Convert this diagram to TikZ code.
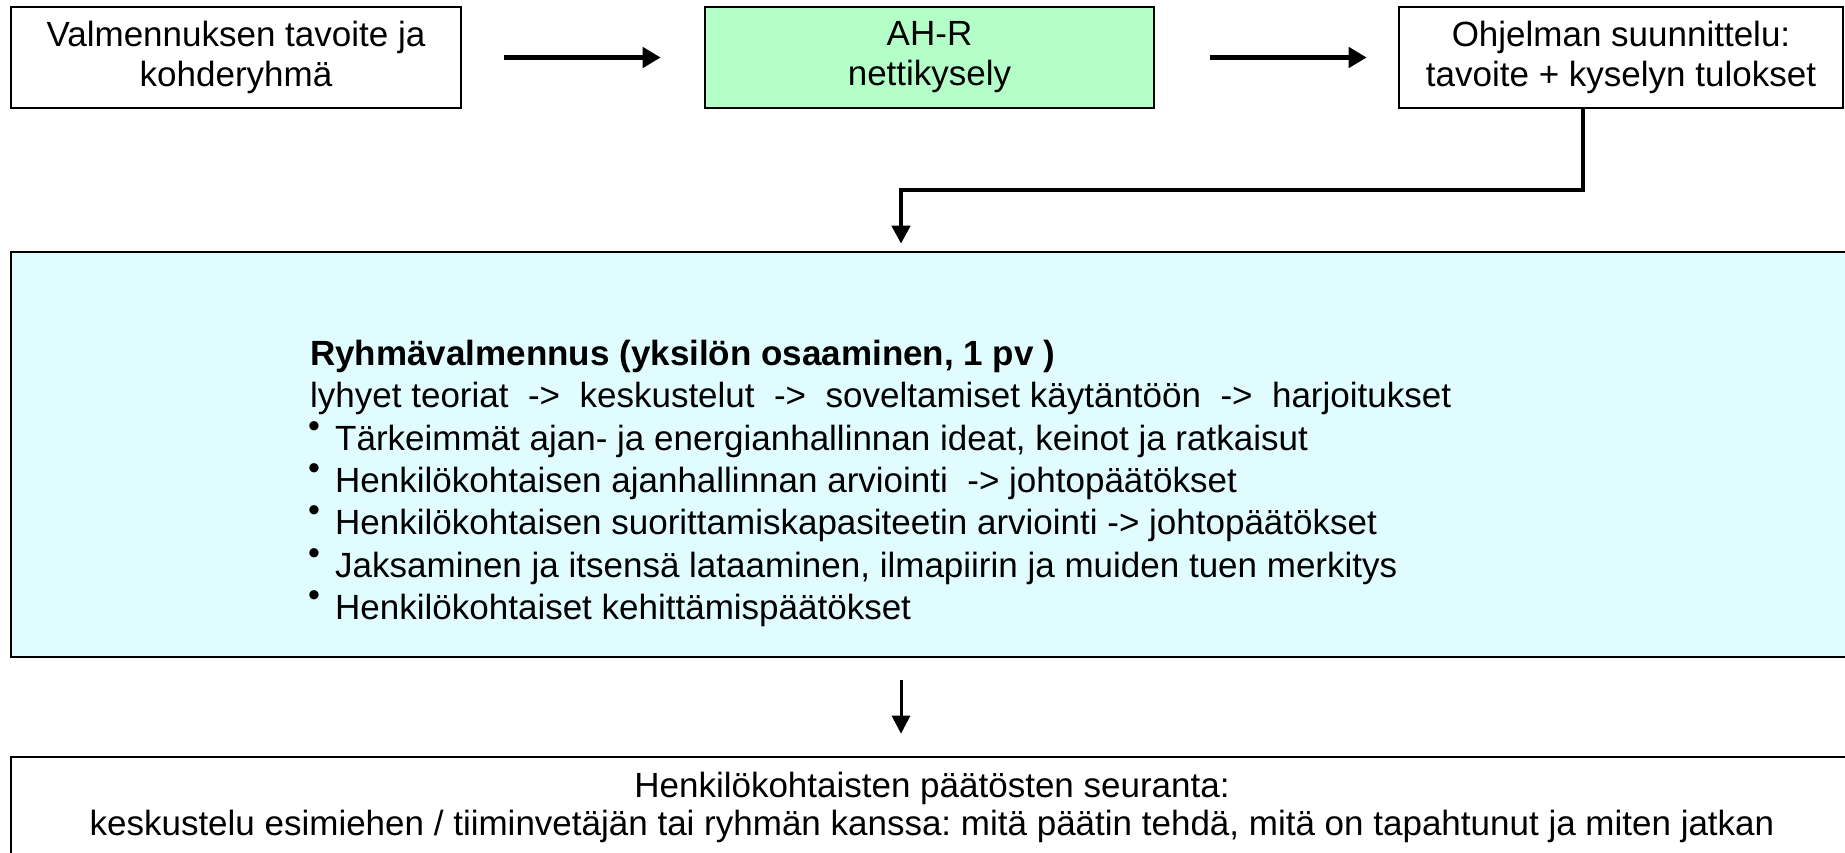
\documentclass[tikz,border=0pt]{standalone}
\usepackage{fontspec}
\setmainfont{Liberation Sans}
\usetikzlibrary{arrows.meta}
\definecolor{boxgreen}{HTML}{B3FFC7}
\definecolor{boxcyan}{HTML}{E0FCFF}
\frenchspacing
\begin{document}
\begin{tikzpicture}[x=1pt,y=-1pt,
  txt/.style={font=\fontsize{35}{40}\selectfont},
  flowbox/.style={draw=black, line width=2.6pt, inner sep=0pt, align=center, txt},
  line/.style={anchor=base west, inner sep=0pt, txt},
  bul/.style={anchor=center, inner sep=0pt, font=\fontsize{34}{34}\selectfont},
  conn/.style={line width=5pt, -{Triangle[length=18pt,width=20pt]}},
  bentconn/.style={line width=4.3pt, -{Triangle[length=18pt,width=18pt]}},
  thinconn/.style={line width=3pt, -{Triangle[length=18pt,width=18pt]}}]
\useasboundingbox (0,0) rectangle (1845,853);
\clip (0,0) rectangle (1845,853);
\fill[white] (0,0) rectangle (1845,853);
% top row
\node[flowbox, minimum width=450pt, minimum height=101pt] (b1) at (236,57.5) {Valmennuksen tavoite ja\\kohderyhmä};
\node[flowbox, fill=boxgreen, minimum width=449pt, minimum height=101pt] (b2) at (929.5,57.5) {AH-R\\nettikysely};
\node[flowbox, minimum width=444pt, minimum height=101pt] (b3) at (1621,57.5) {Ohjelman suunnittelu:\\tavoite + kyselyn tulokset};
% big box
\node[draw=black, line width=2.6pt, fill=boxcyan, minimum width=1842pt, minimum height=405pt, inner sep=0pt] (big) at (932,454.5) {};
\node[line] (t0) at (310,365) {\bfseries Ryhmävalmennus (yksilön osaaminen, 1 pv )};
\node[line] (t1) at (310,407) {lyhyet teoriat\ \ ->\ \ keskustelut\ \ ->\ \ soveltamiset käytäntöön\ \ ->\ \ harjoitukset};
\node[line] (t2) at (335,450) {Tärkeimmät ajan- ja energianhallinnan ideat, keinot ja ratkaisut};
\node[line] (t3) at (335,492) {Henkilökohtaisen ajanhallinnan arviointi\ \ -> johtopäätökset};
\node[line] (t4) at (335,534) {Henkilökohtaisen suorittamiskapasiteetin arviointi -> johtopäätökset};
\node[line] (t5) at (335,577) {Jaksaminen ja itsensä lataaminen, ilmapiirin ja muiden tuen merkitys};
\node[line] (t6) at (335,619) {Henkilökohtaiset kehittämispäätökset};
\foreach \y/\n in {450/2,492/3,534/4,577/5,619/6}
  \node[bul] (d\n) at (314,\y-20) {•};
% bottom box
\node[draw=black, line width=2.6pt, fill=white, minimum width=1842pt, minimum height=200pt, inner sep=0pt] (fb) at (932,857) {};
\node[anchor=base, inner sep=0pt, txt] (fu1) at (932,797) {Henkilökohtaisten päätösten seuranta:};
\node[anchor=base, inner sep=0pt, txt] (fu2) at (932,835) {keskustelu esimiehen / tiiminvetäjän tai ryhmän kanssa: mitä päätin tehdä, mitä on tapahtunut ja miten jatkan};
% connectors
\draw[conn, shorten <=42pt, shorten >=43pt] (b1.east) -- (b2.west);
\draw[conn, shorten <=55pt, shorten >=31pt] (b2.east) -- (b3.west);
\coordinate (elbow) at (1583,190);
\draw[bentconn, shorten >=7pt] ([xshift=-38pt]b3.south) -- (elbow) -| ([xshift=-31pt]big.north);
\draw[thinconn, shorten <=22pt, shorten >=22pt] ([xshift=-31pt]big.south) -- ([xshift=-31pt]fb.north);
\end{tikzpicture}
\end{document}
